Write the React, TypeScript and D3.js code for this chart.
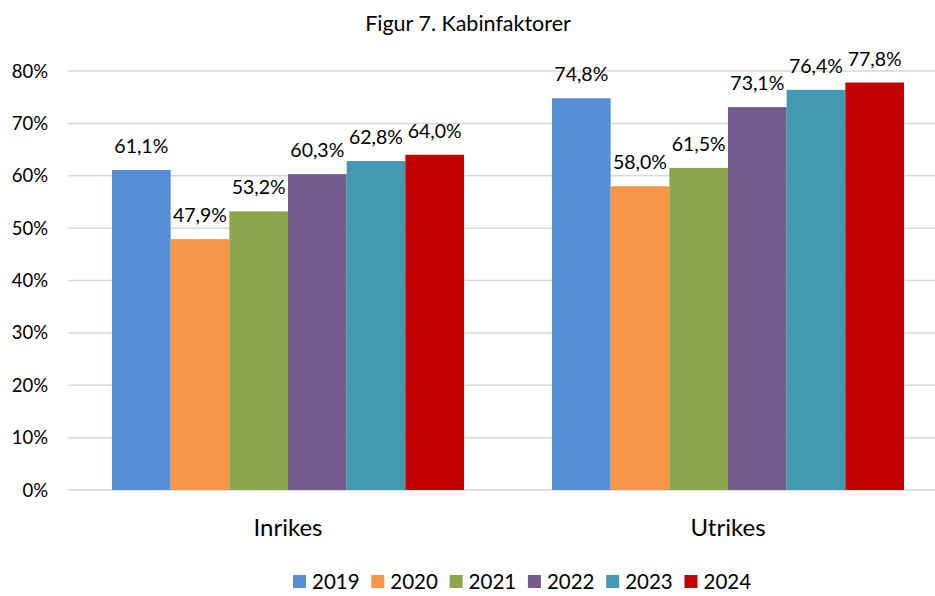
import React, { useEffect, useRef } from 'react';
import * as d3 from 'd3';

const categories = ['Inrikes', 'Utrikes'];
const years = ['2019', '2020', '2021', '2022', '2023', '2024'];
const values: number[][] = [
  [61.1, 47.9, 53.2, 60.3, 62.8, 64.0],
  [74.8, 58.0, 61.5, 73.1, 76.4, 77.8],
];
const yTicks = [0, 10, 20, 30, 40, 50, 60, 70, 80];
const colors = ['#558ED5', '#F79646', '#8BA64D', '#735A8F', '#4399B0', '#C00000'];

const W = 935;
const H = 596;
const FONT = 'Lato, "Open Sans", sans-serif';

export default function App() {
  const svgRef = useRef<SVGSVGElement>(null);

  useEffect(() => {
    document.body.style.margin = '0';
    if (!svgRef.current) return;
    const svg = d3.select(svgRef.current);
    svg.selectAll('*').remove();

    const x0 = d3.scaleBand().domain(categories).range([68, 948]).paddingInner(0).paddingOuter(0);
    const x1 = d3.scaleBand().domain(years).range([0, x0.bandwidth()]).paddingInner(0).paddingOuter(0.75);
    const y = d3.scaleLinear().domain([0, 80]).range([490, 71]);

    svg.append('rect').attr('width', W).attr('height', H).attr('fill', '#fff');

    // title
    svg.append('text')
      .attr('x', 468).attr('y', 31)
      .attr('text-anchor', 'middle')
      .attr('font-family', FONT).attr('font-size', 21.5)
      .attr('fill', '#000')
      .text('Figur 7. Kabinfaktorer');

    // gridlines
    svg.append('g').selectAll('line')
      .data(yTicks)
      .join('line')
      .attr('x1', 68).attr('x2', 948)
      .attr('y1', d => y(d)).attr('y2', d => y(d))
      .attr('stroke', '#D9D9D9').attr('stroke-width', 1.5);

    // y tick labels
    svg.append('g').selectAll('text')
      .data(yTicks)
      .join('text')
      .attr('x', 48).attr('y', d => y(d) + 6.5)
      .attr('text-anchor', 'end')
      .attr('font-family', FONT).attr('font-size', 18.5)
      .attr('fill', '#000')
      .text(d => d + '%');

    // bars
    const groups = svg.append('g').selectAll('g')
      .data(categories)
      .join('g')
      .attr('transform', c => `translate(${x0(c)},0)`);

    groups.selectAll('rect')
      .data((c, i) => values[i].map((v, j) => ({ year: years[j], v, j })))
      .join('rect')
      .attr('x', d => x1(d.year) || 0)
      .attr('y', d => y(d.v))
      .attr('width', x1.bandwidth())
      .attr('height', d => y(0) - y(d.v))
      .attr('fill', d => colors[d.j]);

    groups.selectAll('text')
      .data((c, i) => values[i].map((v, j) => ({ year: years[j], v, j })))
      .join('text')
      .attr('x', d => (x1(d.year) || 0) + x1.bandwidth() / 2)
      .attr('y', d => Math.max(y(d.v) - 24, 45) + 7)
      .attr('text-anchor', 'middle')
      .attr('font-family', FONT).attr('font-size', 19.5)
      .attr('fill', '#000')
      .text(d => d.v.toFixed(1).replace('.', ',') + '%');

    // category labels
    svg.append('g').selectAll('text')
      .data(categories)
      .join('text')
      .attr('x', c => (x0(c) || 0) + x0.bandwidth() / 2)
      .attr('y', 536)
      .attr('text-anchor', 'middle')
      .attr('font-family', FONT).attr('font-size', 24)
      .attr('fill', '#000')
      .text(c => c);

    // legend
    const legend = svg.append('g').selectAll('g')
      .data(years)
      .join('g')
      .attr('transform', (d, i) => `translate(${293 + i * 78.3},0)`);
    legend.append('rect')
      .attr('x', 0).attr('y', 575)
      .attr('width', 13).attr('height', 13)
      .attr('fill', (d, i) => colors[i]);
    legend.append('text')
      .attr('x', 19).attr('y', 589)
      .attr('font-family', FONT).attr('font-size', 20.5)
      .attr('fill', '#000')
      .text(d => d);
  }, []);

  return <svg ref={svgRef} width={W} height={H} style={{ display: 'block' }} />;
}
